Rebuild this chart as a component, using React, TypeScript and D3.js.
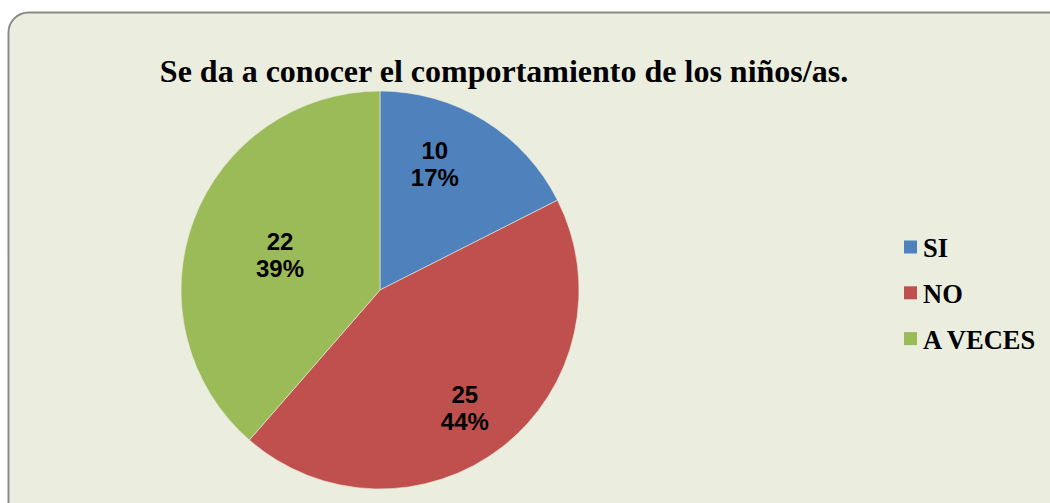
import { useEffect, useRef } from 'react';
import * as d3 from 'd3';

const categories = ['SI', 'NO', 'A VECES'];
const values = [10, 25, 22];
const percents = ['17%', '44%', '39%'];
const colors = ['#4F81BD', '#C0504D', '#9BBB59'];
const title = 'Se da a conocer el comportamiento de los niños/as.';

// label placement like Excel's best fit: fraction of radius and angle nudge (deg) from slice middle
const labelRadius = [0.686, 0.734, 0.531];
const labelNudge = [-7.9, 2.4, -1.7];

export default function App() {
  const svgRef = useRef<SVGSVGElement | null>(null);

  useEffect(() => {
    if (!svgRef.current) return;
    const svg = d3.select(svgRef.current);
    svg.selectAll('*').remove();

    const W = 1050, H = 503;

    // chart area frame
    svg.append('rect').attr('width', W).attr('height', H).attr('fill', '#ffffff');
    svg.append('rect')
      .attr('x', 8.5).attr('y', 12.5).attr('width', W + 30).attr('height', H + 30)
      .attr('rx', 20).attr('fill', '#EBEEDF').attr('stroke', '#8a8a8a').attr('stroke-width', 2);

    svg.append('text').attr('x', 504).attr('y', 82)
      .attr('text-anchor', 'middle')
      .style('font-family', '"Liberation Serif", "Times New Roman", serif')
      .style('font-size', '32px').style('font-weight', 'bold').style('fill', '#000')
      .text(title);

    const cx = 380, cy = 290, r = 199;
    const g = svg.append('g').attr('transform', `translate(${cx},${cy})`);

    const pie = d3.pie<number>().value(d => d).sort(null);
    const arcs = pie(values);
    const arc = d3.arc<d3.PieArcDatum<number>>().innerRadius(0).outerRadius(r);

    g.selectAll('path').data(arcs).join('path')
      .attr('d', arc).attr('fill', (d, i) => colors[i])
      .attr('stroke', '#EBEEDF').attr('stroke-width', 0.6);

    arcs.forEach((d, i) => {
      const a = (d.startAngle + d.endAngle) / 2 + labelNudge[i] * Math.PI / 180;
      const lr = r * labelRadius[i];
      const x = lr * Math.sin(a);
      const y = -lr * Math.cos(a);
      const t = g.append('text').attr('x', x).attr('y', y)
        .attr('text-anchor', 'middle')
        .style('font-family', '"Liberation Sans", Arial, sans-serif')
        .style('font-size', '24px').style('font-weight', 'bold').style('fill', '#000');
      t.append('tspan').attr('x', x).attr('dy', -6).text(String(values[i]));
      t.append('tspan').attr('x', x).attr('dy', 27).text(percents[i]);
    });

    // legend
    const legend = svg.append('g').attr('transform', 'translate(904, 240.5)');
    categories.forEach((c, i) => {
      const row = legend.append('g').attr('transform', `translate(0, ${i * 45.8})`);
      row.append('rect').attr('width', 13).attr('height', 13).attr('fill', colors[i]);
      row.append('text').attr('x', 19).attr('y', 16.5)
        .style('font-family', '"Liberation Serif", "Times New Roman", serif')
        .style('font-size', '26.5px').style('font-weight', 'bold').style('fill', '#000')
        .text(c);
    });
  }, []);

  return (
    <svg ref={svgRef} width={1050} height={503}
      style={{ position: 'absolute', left: 0, top: 0, display: 'block' }} />
  );
}
